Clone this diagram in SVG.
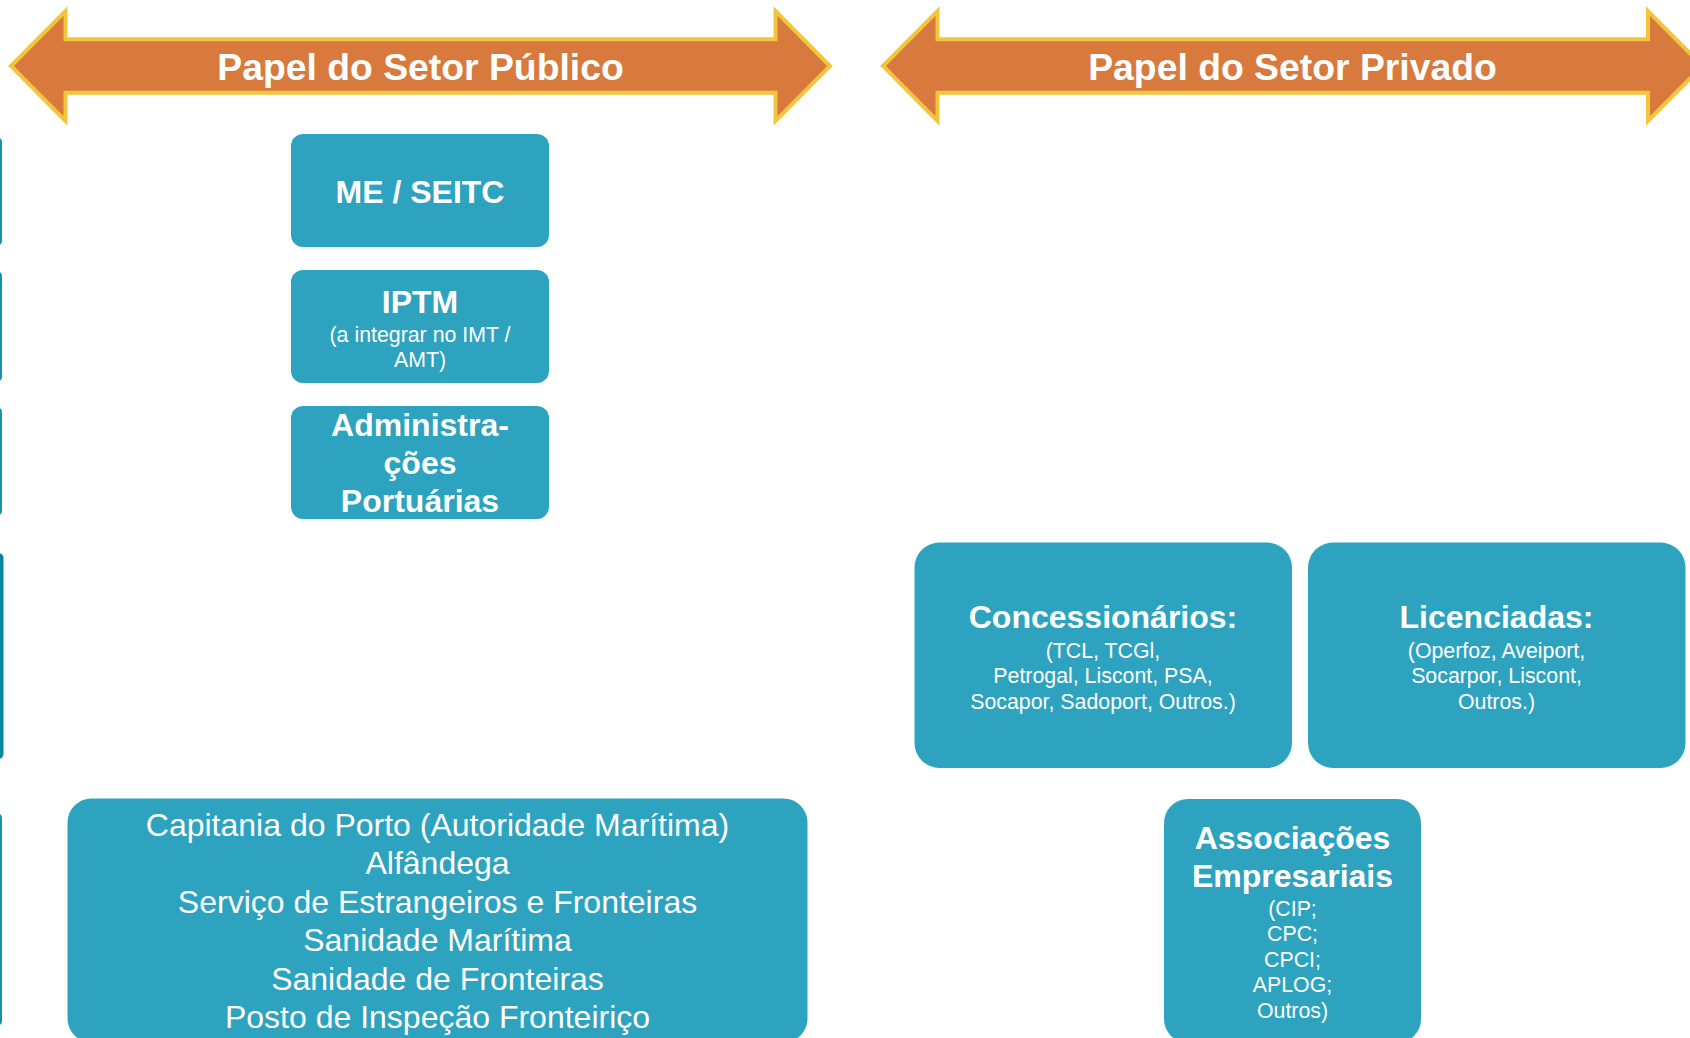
<svg xmlns="http://www.w3.org/2000/svg" width="1690" height="1038" viewBox="0 0 1690 1038">
<style>
.arrow{fill:#D8793E;stroke:#F2C53D;stroke-width:4;stroke-linejoin:miter}
.title{font-family:"Liberation Sans",Arial,sans-serif;font-weight:bold;font-size:37.33px;fill:#FFFFFF;text-anchor:middle}
.box{fill:#2EA3C0}
.bar{fill:#1792A8}
.bar2{fill:#03879C}
.b{font-family:"Liberation Sans",Arial,sans-serif;font-weight:bold;font-size:32px;fill:#FFFFFF;text-anchor:middle}
.r{font-family:"Liberation Sans",Arial,sans-serif;font-size:32px;fill:#FFFFFF;text-anchor:middle}
.s{font-family:"Liberation Sans",Arial,sans-serif;font-size:21.33px;fill:#FFFFFF;text-anchor:middle}
</style>
<rect width="1690" height="1038" fill="#FFFFFF"/>
<g id="left-bars">
<rect class="bar" x="-60" y="138" width="62" height="107" rx="4"/>
<rect class="bar" x="-60" y="272" width="62" height="109" rx="4"/>
<rect class="bar" x="-60" y="408" width="62" height="107" rx="4"/>
<rect class="bar2" x="-60" y="553" width="63.5" height="206" rx="5"/>
<rect class="bar" x="-60" y="813" width="62" height="213" rx="5"/>
</g>
<g id="arrow-publico">
<polygon class="arrow" points="11,66 65.5,11 65.5,39.3 775.5,39.3 775.5,11 830,66 775.5,121 775.5,92.7 65.5,92.7 65.5,121"/>
<text class="title" x="420.5" y="80">Papel do Setor Público</text>
</g>
<g id="arrow-privado">
<polygon class="arrow" points="883,66 937.5,11 937.5,39.3 1648,39.3 1648,11 1702.5,66 1648,121 1648,92.7 937.5,92.7 937.5,121"/>
<text class="title" x="1292.5" y="80">Papel do Setor Privado</text>
</g>
<g id="me-seitc">
<rect class="box" x="291" y="134" width="258" height="113" rx="12"/>
<text class="b" x="420" y="203">ME / SEITC</text>
</g>
<g id="iptm">
<rect class="box" x="291" y="270" width="258" height="113" rx="12"/>
<text class="b" x="420" y="313">IPTM</text>
<text class="s" x="420" y="341.7">(a integrar no IMT /</text>
<text class="s" x="420" y="367">AMT)</text>
</g>
<g id="administracoes">
<rect class="box" x="291" y="406" width="258" height="113" rx="12"/>
<text class="b" x="420" y="435.5">Administra-</text>
<text class="b" x="420" y="473.9">ções</text>
<text class="b" x="420" y="512.3">Portuárias</text>
</g>
<g id="concessionarios">
<rect class="box" x="914.5" y="542.5" width="377.5" height="225.5" rx="25"/>
<text class="b" x="1103" y="628">Concessionários:</text>
<text class="s" x="1103" y="657.5">(TCL, TCGl,</text>
<text class="s" x="1103" y="683">Petrogal, Liscont, PSA,</text>
<text class="s" x="1103" y="708.5">Socapor, Sadoport, Outros.)</text>
</g>
<g id="licenciadas">
<rect class="box" x="1308" y="542.5" width="377.5" height="225.5" rx="25"/>
<text class="b" x="1496.5" y="628">Licenciadas:</text>
<text class="s" x="1496.5" y="657.5">(Operfoz, Aveiport,</text>
<text class="s" x="1496.5" y="683">Socarpor, Liscont,</text>
<text class="s" x="1496.5" y="708.5">Outros.)</text>
</g>
<g id="autoridades">
<rect class="box" x="67.5" y="798.5" width="740" height="244" rx="24"/>
<text class="r" x="437.5" y="836">Capitania do Porto (Autoridade Marítima)</text>
<text class="r" x="437.5" y="874.4">Alfândega</text>
<text class="r" x="437.5" y="912.8">Serviço de Estrangeiros e Fronteiras</text>
<text class="r" x="437.5" y="951.2">Sanidade Marítima</text>
<text class="r" x="437.5" y="989.6">Sanidade de Fronteiras</text>
<text class="r" x="437.5" y="1028">Posto de Inspeção Fronteiriço</text>
</g>
<g id="associacoes">
<rect class="box" x="1164" y="799" width="257" height="244" rx="24"/>
<text class="b" x="1292.5" y="849">Associações</text>
<text class="b" x="1292.5" y="887">Empresariais</text>
<text class="s" x="1292.5" y="915.5">(CIP;</text>
<text class="s" x="1292.5" y="941">CPC;</text>
<text class="s" x="1292.5" y="966.5">CPCI;</text>
<text class="s" x="1292.5" y="992">APLOG;</text>
<text class="s" x="1292.5" y="1017.5">Outros)</text>
</g>
<g id="connectors"/>
</svg>
